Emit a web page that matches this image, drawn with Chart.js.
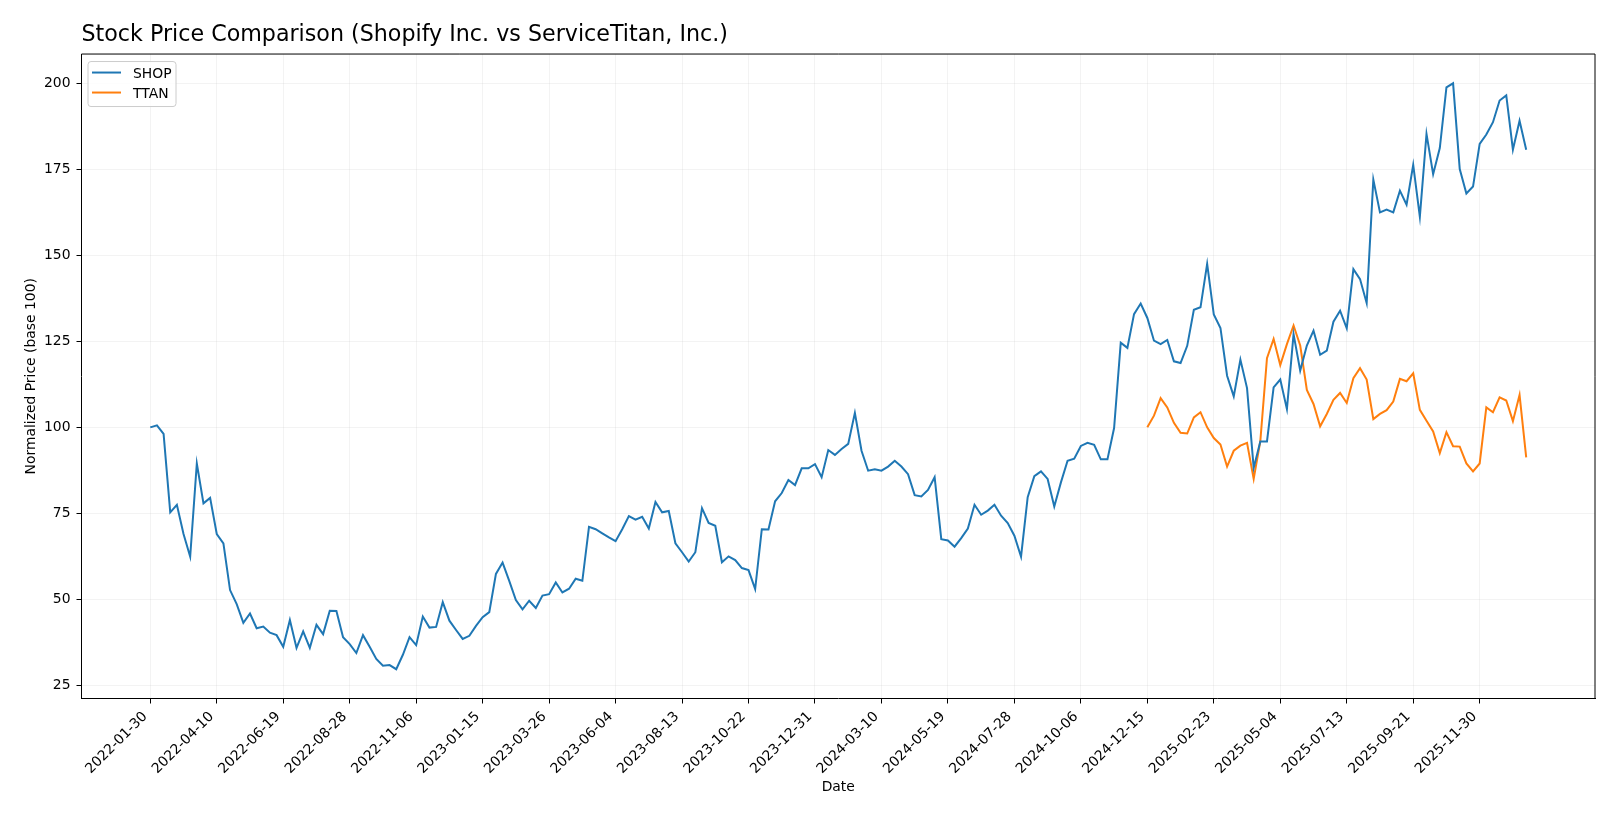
<!DOCTYPE html>
<html>
<head>
<meta charset="utf-8">
<title>Stock Price Comparison</title>
<script src="https://cdn.jsdelivr.net/npm/chart.js@4.4.1/dist/chart.umd.min.js"></script>
<style>
  html, body { margin: 0; padding: 0; background: #fff; }
  canvas { display: block; }
</style>
</head>
<body>
<canvas id="priceChart" width="1620" height="819"></canvas>
<script>
// Weekly closes, normalized to 100 at each ticker's first week
const startDate = '2022-01-30';
const shopValues = [
  100.0, 100.6, 98.1, 75.3, 77.5, 69.0, 62.4, 89.5, 77.9, 79.5,
  69.0, 66.3, 52.7, 48.6, 43.2, 45.9, 41.6, 42.1, 40.3, 39.6,
  36.2, 44.0, 35.9, 40.7, 35.9, 42.6, 39.9, 46.7, 46.6, 39.0,
  37.0, 34.4, 39.6, 36.2, 32.7, 30.7, 30.9, 29.7, 33.9, 39.0,
  36.7, 45.0, 41.8, 42.0, 49.2, 43.8, 41.1, 38.5, 39.4, 42.3,
  44.8, 46.3, 57.4, 60.7, 55.4, 49.8, 47.1, 49.6, 47.5, 51.1,
  51.5, 54.9, 52.0, 53.1, 56.0, 55.4, 71.1, 70.4, 69.2, 68.0,
  66.9, 70.4, 74.2, 73.2, 74.0, 70.6, 78.3, 75.3, 75.7, 66.3,
  63.7, 61.0, 63.7, 76.5, 72.2, 71.4, 60.8, 62.5, 61.4, 59.1,
  58.5, 53.0, 70.4, 70.3, 78.5, 80.9, 84.7, 83.2, 88.1, 88.1,
  89.3, 85.5, 93.4, 92.0, 93.7, 95.2, 104.2, 93.2, 87.4, 87.8,
  87.4, 88.6, 90.3, 88.6, 86.4, 80.3, 79.9, 81.8, 85.5, 67.5,
  67.1, 65.3, 67.8, 70.6, 77.5, 74.6, 75.8, 77.5, 74.3, 72.2,
  68.5, 62.4, 79.7, 85.8, 87.2, 85.0, 77.0, 84.0, 90.3, 90.9,
  94.6, 95.5, 94.9, 90.7, 90.7, 99.8, 124.6, 123.1, 132.9, 136.0,
  131.8, 125.2, 124.2, 125.4, 119.2, 118.7, 123.7, 134.2, 134.9, 147.5,
  132.8, 128.9, 115.0, 109.0, 119.7, 111.4, 88.2, 95.9, 95.9, 111.6,
  113.9, 105.3, 127.1, 116.5, 123.8, 128.1, 121.1, 122.3, 130.7, 133.9,
  128.8, 146.0, 143.1, 136.1, 172.0, 162.5, 163.3, 162.5, 168.8, 164.7,
  176.3, 161.2, 185.3, 173.6, 181.2, 198.8, 200.0, 175.1, 168.0, 170.0,
  182.4, 185.1, 188.7, 195.0, 196.5, 180.7, 189.1, 180.7
];
const ttanStartDate = '2024-12-15';
const ttanValues = [
  100.0, 103.4, 108.5, 105.8, 101.3, 98.4, 98.2, 102.9, 104.4, 100.0,
  96.9, 95.0, 88.6, 93.2, 94.7, 95.5, 85.0, 96.0, 120.1, 125.7,
  118.1, 124.2, 129.6, 123.8, 110.9, 106.8, 100.3, 103.9, 108.0, 110.0,
  107.1, 114.3, 117.2, 113.9, 102.4, 103.9, 105.0, 107.5, 114.1, 113.4,
  115.7, 105.1, 101.9, 98.8, 92.5, 98.6, 94.5, 94.4, 89.5, 87.2,
  89.5, 105.8, 104.4, 108.7, 107.8, 101.8, 109.4, 91.3
];
const tickLabels = [
  '2022-01-30', '2022-04-10', '2022-06-19', '2022-08-28', '2022-11-06',
  '2023-01-15', '2023-03-26', '2023-06-04', '2023-08-13', '2023-10-22',
  '2023-12-31', '2024-03-10', '2024-05-19', '2024-07-28', '2024-10-06',
  '2024-12-15', '2025-02-23', '2025-05-04', '2025-07-13', '2025-09-21',
  '2025-11-30'
];
const yTicks = [25, 50, 75, 100, 125, 150, 175, 200];

// one date per week
function addDays(iso, days) {
  const d = new Date(iso + 'T00:00:00Z');
  d.setUTCDate(d.getUTCDate() + days);
  return d.toISOString().slice(0, 10);
}
const dates = shopValues.map((_, i) => addDays(startDate, i * 7));
const ttanOffset = dates.indexOf(ttanStartDate);

const shopPoints = shopValues.map((v, i) => ({ x: i, y: v }));
const ttanPoints = ttanValues.map((v, i) => ({ x: ttanOffset + i, y: v }));

// 5% margins around the data, like matplotlib
const lastIdx = dates.length - 1;
const allValues = shopValues.concat(ttanValues);
const yMin = Math.min(...allValues);
const yMax = Math.max(...allValues);
const yPad = (yMax - yMin) * 0.05;

const FONT = "'DejaVu Sans', sans-serif";
Chart.defaults.font.family = FONT;
Chart.defaults.color = '#000';

// top and right spines
const framePlugin = {
  id: 'frame',
  afterDraw(chart) {
    const { ctx, chartArea: a } = chart;
    ctx.save();
    ctx.strokeStyle = '#000';
    ctx.lineWidth = 1;
    ctx.beginPath();
    ctx.moveTo(a.left, a.top);
    ctx.lineTo(a.right, a.top);
    ctx.lineTo(a.right, a.bottom);
    ctx.stroke();
    ctx.restore();
  }
};

// boxed legend in the upper left corner
const legendPlugin = {
  id: 'boxLegend',
  afterDatasetsDraw(chart) {
    const { ctx, chartArea: a } = chart;
    const x = a.left + 6.5, y = a.top + 7.5, w = 88, h = 45;
    ctx.save();
    ctx.beginPath();
    ctx.roundRect(x, y, w, h, 3);
    ctx.fillStyle = 'rgba(255,255,255,0.8)';
    ctx.fill();
    ctx.strokeStyle = '#cccccc';
    ctx.lineWidth = 1;
    ctx.stroke();
    ctx.font = '13.9px ' + FONT;
    ctx.textBaseline = 'alphabetic';
    chart.data.datasets.forEach((ds, i) => {
      const rowY = y + 11 + i * 20;
      ctx.strokeStyle = ds.borderColor;
      ctx.lineWidth = 2;
      ctx.beginPath();
      ctx.moveTo(x + 4, rowY);
      ctx.lineTo(x + 33, rowY);
      ctx.stroke();
      ctx.fillStyle = '#000';
      ctx.fillText(ds.label, x + 45, rowY + 5);
    });
    ctx.restore();
  }
};

const ctx = document.getElementById('priceChart').getContext('2d');
const chart = new Chart(ctx, {
  type: 'line',
  data: {
    datasets: [{
      label: 'SHOP',
      data: shopPoints,
      borderColor: '#1f77b4',
      borderWidth: 2,
      pointRadius: 0,
      fill: false
    }, {
      label: 'TTAN',
      data: ttanPoints,
      borderColor: '#ff7f0e',
      borderWidth: 2,
      pointRadius: 0,
      fill: false
    }]
  },
  options: {
    responsive: false,
    devicePixelRatio: 1,
    animation: false,
    layout: { padding: { left: 0, right: 25, top: 0, bottom: 0 } },
    plugins: {
      legend: { display: false },
      tooltip: { enabled: false },
      title: {
        display: true,
        text: 'Stock Price Comparison (Shopify Inc. vs ServiceTitan, Inc.)',
        align: 'start',
        fullSize: false,
        color: '#000',
        font: { size: 22.2, weight: 'normal' },
        padding: { top: 22.4, bottom: 5 }
      }
    },
    scales: {
      x: {
        type: 'linear',
        min: -lastIdx * 0.05,
        max: lastIdx * 1.05,
        afterBuildTicks: (scale) => {
          scale.ticks = tickLabels.map(d => ({ value: dates.indexOf(d) }));
        },
        afterFit: (scale) => { scale.height = 120.5; },
        ticks: {
          autoSkip: false,
          minRotation: 45,
          maxRotation: 45,
          padding: 5,
          labelOffset: -5,
          font: { size: 13.9 },
          callback: (v) => dates[v]
        },
        grid: { color: 'rgba(176,176,176,0.15)', lineWidth: 1, tickLength: 5, tickColor: '#000', tickWidth: 1 },
        border: { color: '#000', width: 1 },
        title: { display: true, text: 'Date', font: { size: 13.9 }, padding: { top: 0, bottom: 23.5 } }
      },
      y: {
        min: yMin - yPad,
        max: yMax + yPad,
        afterBuildTicks: (scale) => {
          scale.ticks = yTicks.map(v => ({ value: v }));
        },
        afterFit: (scale) => { scale.width = 81.5; },
        ticks: { padding: 6, font: { size: 13.9 } },
        grid: { color: 'rgba(176,176,176,0.15)', lineWidth: 1, tickLength: 5, tickColor: '#000', tickWidth: 1 },
        border: { color: '#000', width: 1 },
        title: { display: true, text: 'Normalized Price (base 100)', font: { size: 13.9 }, padding: { top: 22.7, bottom: 0 } }
      }
    }
  },
  plugins: [framePlugin, legendPlugin]
});
</script>
</body>
</html>
